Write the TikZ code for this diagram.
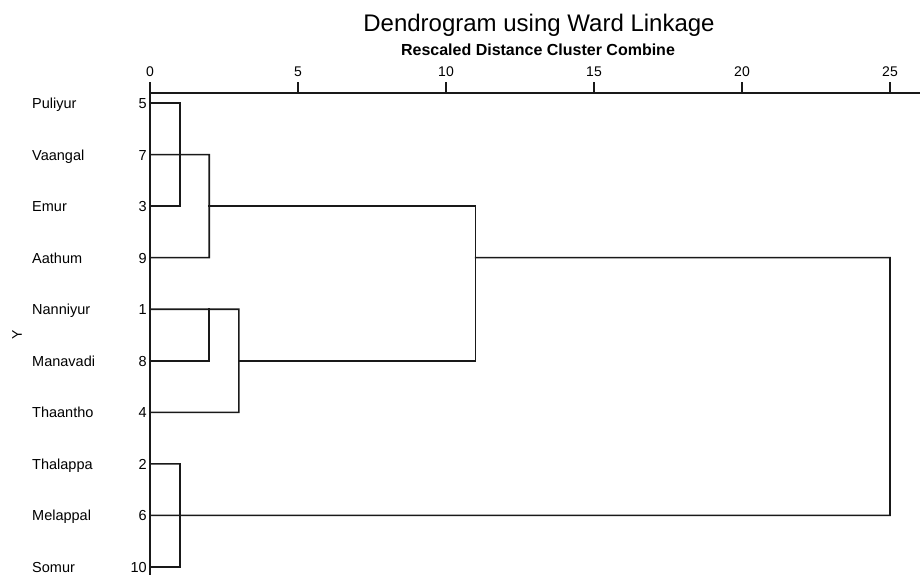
\documentclass[tikz,border=0pt]{standalone}
\usepackage{fontspec}
\setmainfont{Liberation Sans}
\begin{document}
\begin{tikzpicture}[x=1pt,y=-1pt,
  dline/.style={draw=black!90,line width=1.6pt,line cap=rect},
  rowlab/.style={anchor=base west,inner sep=0pt,font=\fontsize{14.5}{16}\selectfont},
  numlab/.style={anchor=base east,inner sep=0pt,font=\fontsize{14.5}{16}\selectfont},
  ticklab/.style={anchor=base,inner sep=0pt,font=\fontsize{14}{16}\selectfont}]
\useasboundingbox (0,0) rectangle (920,575);
% titles
\node[anchor=base,inner sep=0pt,font=\fontsize{24}{26}\selectfont] (title) at (539,32) {Dendrogram using Ward Linkage};
\node[anchor=base,inner sep=0pt,font=\bfseries\fontsize{16}{18}\selectfont] (sub) at (538,56) {Rescaled Distance Cluster Combine};
% axis
\draw[dline] (150,93) -- (920,93);
\foreach \d in {0,5,10,15,20,25}{
  \node[ticklab] (t\d) at ({150+29.6*\d},77) {\d};
}
\foreach \d in {5,10,15,20,25}{
  \draw[dline] ({150+29.6*\d},83) -- ({150+29.6*\d},93);
}
\draw[dline] (150,83) -- (150,575);
% Y label
\node[rotate=90,inner sep=0pt,font=\fontsize{14}{16}\selectfont] (ylab) at (17,335) {Y};
% rows
\foreach \i/\name/\num in {1/Puliyur/5,2/Vaangal/7,3/Emur/3,4/Aathum/9,5/Nanniyur/1,6/Manavadi/8,7/Thaantho/4,8/Thalappa/2,9/Melappal/6,10/Somur/10}{
  \pgfmathsetmacro{\yy}{103+(\i-1)*51.55}
  \node[rowlab] (lab\i) at (32,\yy+5.5) {\name};
  \node[numlab] (num\i) at (147,\yy+5.5) {\num};
  \coordinate (r\i) at (150,\yy);
}
% merge coordinates
\coordinate (a1) at (180,103);
\coordinate (a3) at (180,206.1);
\coordinate (b2) at (209.2,154.55);
\coordinate (b4) at (209.2,257.65);
\coordinate (b3) at (209.2,206.1);
\coordinate (c5) at (209.2,309.2);
\coordinate (c6) at (209.2,360.75);
\coordinate (d5) at (238.8,309.2);
\coordinate (d7) at (238.8,412.3);
\coordinate (d6) at (238.8,360.75);
\coordinate (e3) at (475.6,206.1);
\coordinate (e6) at (475.6,360.75);
\coordinate (e4) at (475.6,257.65);
\coordinate (f4) at (890,257.65);
\coordinate (f9) at (890,515.4);
\coordinate (g8) at (180,463.85);
\coordinate (g10) at (180,566.95);
% links
\draw[dline] (r1) -- (a1) -- (a3) -- (r3);
\draw[dline] (r2) -- (b2) -- (b4) -- (r4);
\draw[dline] (b3) -- (e3) -- (e6) -- (d6);
\draw[dline] (r5) -- (d5) -- (d7) -- (r7);
\draw[dline] (r6) -- (c6) -- (c5);
\draw[dline] (e4) -- (f4) -- (f9) -- (r9);
\draw[dline] (r8) -- (g8) -- (g10) -- (r10);
\end{tikzpicture}
\end{document}
